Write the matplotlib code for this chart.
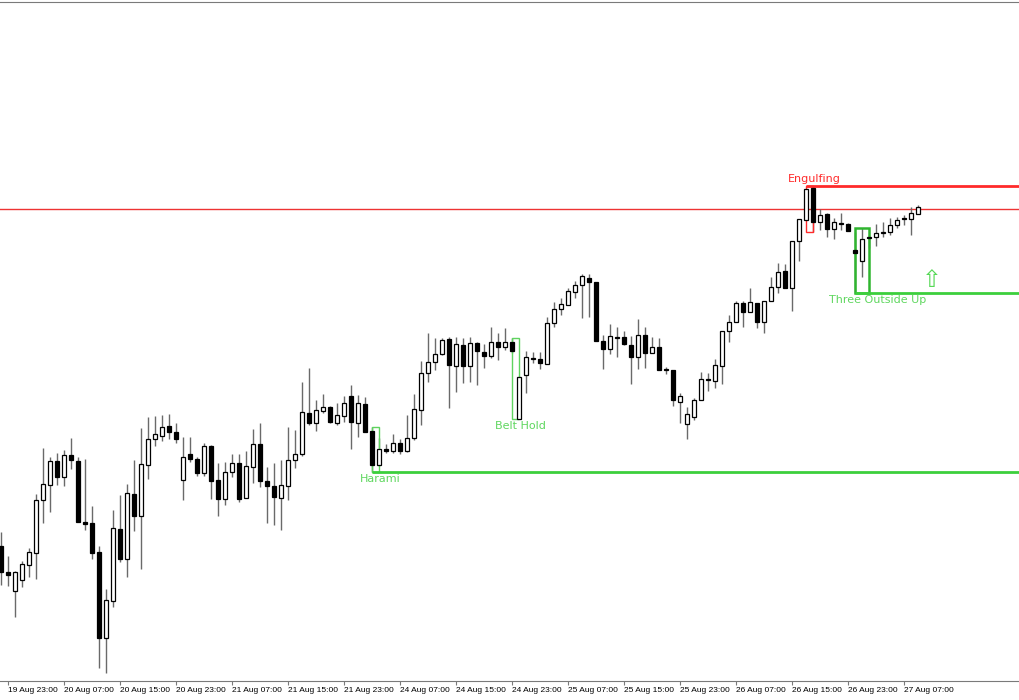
import numpy as np
import matplotlib.pyplot as plt
from matplotlib.patches import Rectangle

# hourly candles, 19 Aug 22:00 .. 27 Aug 09:00 (weekend skipped)
# prices in chart points (no price scale is shown on the picture)
open_ = [154, 128, 109, 120, 135, 147, 200, 215, 239, 223,
         245, 239, 178, 177, 148, 62, 99, 171, 141, 206,
         184, 235, 261, 264, 274, 268, 220, 246, 241, 227,
         254, 220, 201, 228, 237, 202, 233, 256, 219, 214,
         202, 214, 240, 246, 287, 277, 289, 293, 277, 284,
         304, 277, 296, 269, 235, 251, 249, 257, 249, 262,
         290, 327, 338, 346, 361, 334, 355, 334, 357, 348,
         344, 358, 353, 358, 281, 325, 342, 341, 336, 377,
         391, 395, 408, 415, 422, 418, 359, 351, 363, 363,
         355, 343, 365, 347, 353, 331, 330, 298, 276, 283,
         300, 321, 319, 334, 369, 378, 397, 388, 397, 378,
         399, 413, 429, 412, 459, 480, 512, 478, 486, 471,
         477, 476, 450, 439, 463, 463, 467, 468, 475, 482,
         481, 486]
high = [168, 144, 129, 139, 152, 206, 252, 243, 247, 250,
        262, 243, 241, 194, 154, 111, 190, 205, 216, 240,
        272, 283, 284, 285, 286, 277, 263, 263, 243, 257,
        255, 237, 238, 246, 246, 249, 271, 277, 233, 237,
        240, 273, 270, 318, 332, 300, 306, 294, 297, 304,
        315, 305, 303, 273, 262, 256, 266, 261, 285, 306,
        339, 367, 362, 362, 363, 363, 362, 363, 358, 356,
        373, 367, 372, 362, 324, 349, 348, 348, 383, 398,
        402, 412, 419, 426, 426, 418, 365, 376, 373, 369,
        364, 381, 373, 363, 362, 333, 330, 307, 293, 302,
        328, 327, 341, 369, 385, 399, 399, 412, 397, 399,
        423, 437, 436, 459, 481, 511, 514, 491, 487, 482,
        487, 477, 468, 472, 465, 476, 478, 482, 483, 485,
        493, 495]
low = [115, 114, 83, 113, 123, 121, 177, 188, 215, 214,
       231, 178, 170, 141, 32, 27, 93, 138, 123, 169,
       131, 221, 254, 259, 261, 257, 200, 238, 224, 224,
       201, 184, 195, 223, 198, 202, 217, 213, 177, 175,
       170, 200, 232, 244, 275, 269, 287, 277, 275, 278,
       251, 263, 268, 228, 234, 247, 247, 246, 248, 260,
       275, 318, 330, 345, 292, 308, 317, 318, 315, 332,
       342, 340, 350, 347, 281, 307, 337, 331, 336, 373,
       385, 395, 402, 382, 383, 359, 331, 346, 343, 355,
       316, 331, 332, 347, 330, 326, 294, 277, 261, 280,
       300, 309, 312, 316, 358, 378, 373, 388, 372, 367,
       399, 407, 412, 389, 439, 480, 468, 470, 463, 461,
       470, 469, 407, 423, 452, 454, 463, 465, 472, 475,
       465, 486]
close = [128, 125, 128, 136, 148, 200, 216, 239, 223, 245,
         240, 178, 176, 147, 62, 100, 172, 141, 207, 184,
         236, 261, 266, 273, 268, 261, 243, 241, 227, 254,
         219, 201, 228, 237, 201, 234, 256, 219, 214, 203,
         215, 240, 246, 288, 277, 290, 293, 278, 285, 297,
         278, 297, 268, 235, 251, 249, 257, 249, 262, 291,
         327, 338, 346, 360, 335, 356, 334, 357, 349, 344,
         358, 353, 358, 349, 323, 343, 341, 337, 377, 391,
         396, 409, 415, 424, 418, 359, 351, 364, 362, 356,
         343, 365, 347, 353, 330, 330, 300, 304, 286, 300,
         321, 320, 335, 369, 378, 397, 388, 398, 378, 399,
         413, 428, 412, 459, 481, 511, 478, 485, 471, 478,
         476, 469, 447, 461, 462, 467, 468, 475, 480, 481,
         487, 493]

tick_labels = ['19 Aug 23:00', '20 Aug 07:00', '20 Aug 15:00', '20 Aug 23:00',
               '21 Aug 07:00', '21 Aug 15:00', '21 Aug 23:00', '24 Aug 07:00',
               '24 Aug 15:00', '24 Aug 23:00', '25 Aug 07:00', '25 Aug 15:00',
               '25 Aug 23:00', '26 Aug 07:00', '26 Aug 15:00', '26 Aug 23:00',
               '27 Aug 07:00']

# candlestick patterns found: name, first bar, last bar, bullish?
pat_names = ['Harami', 'Belt Hold', 'Engulfing', 'Three Outside Up']
pat_first = [53, 73, 115, 122]
pat_last = [54, 74, 116, 124]
pat_bull = [True, True, False, True]
pat_extend = [True, False, True, True]   # level drawn to the right edge

price_line = 491.5   # thin red line
signal_bar = 133     # arrow after last bar
signal_price = 420

o = np.array(open_)
h = np.array(high)
l = np.array(low)
c = np.array(close)
x = np.arange(len(o))

fig = plt.figure(figsize=(10.2, 7), dpi=100)
ax = fig.add_axes([0, 19 / 700, 1, 679 / 700])

ax.vlines(x, l, h, color='#6a6a6a', lw=1, zorder=1)
up = c >= o
bottom = np.minimum(o, c)
height = np.maximum(np.abs(c - o), 0.7)
ax.bar(x, height, bottom=bottom, width=0.7,
       color=np.where(up, 'white', 'black'), edgecolor='black',
       linewidth=0.9, zorder=2)

xmax = 146
ax.axhline(price_line, color='#ee3333', lw=1, zorder=0)

for i in range(len(pat_names)):
    a, b = pat_first[i], pat_last[i]
    top = h[a:b + 1].max()
    bot = l[a:b + 1].min()
    if pat_bull[i]:
        box_col = '#2fb52f' if b - a == 2 else '#5fd35f'
        line_col = '#3ccf3c'
        txt_col = '#5fd75f'
    else:
        box_col = line_col = txt_col = '#ff2a2a'
    lw = 1.8 if b - a == 2 else 1
    # box sits under the candle bodies
    ax.add_patch(Rectangle((a, bot), b - a, top - bot, fill=False,
                           ec=box_col, lw=lw, zorder=1.5))
    if pat_extend[i]:
        lev = bot if pat_bull[i] else top
        ax.hlines(lev, a, xmax, color=line_col, lw=2, zorder=1.5)
    lx = b + 0.2 + (1.0 if b - a == 2 else 0)
    if pat_bull[i]:
        ax.text(lx, bot - 2, pat_names[i], ha='center', va='top',
                fontsize=8, color=txt_col)
    else:
        ax.text(lx, top + 2, pat_names[i], ha='center', va='bottom',
                fontsize=8, color=txt_col)

ax.text(signal_bar, signal_price, '\u21e7', ha='center', va='center',
        fontsize=17, color='#55d855')

ax.set_xlim(-1 / 7, 1019 / 7)
ax.set_ylim(19, 698)

for s in ['left', 'right']:
    ax.spines[s].set_visible(False)
ax.spines['bottom'].set_color('#7a7a7a')
ax.spines['top'].set_color('#7a7a7a')
ax.set_yticks([])
ax.set_xticks(np.arange(len(tick_labels)) * 8 + 1)
ax.set_xticklabels(tick_labels, family='Liberation Sans', fontsize=6, ha='left')
ax.tick_params(axis='x', direction='out', length=3, color='#7a7a7a', pad=1)

fig.savefig('out.png', dpi=100)
